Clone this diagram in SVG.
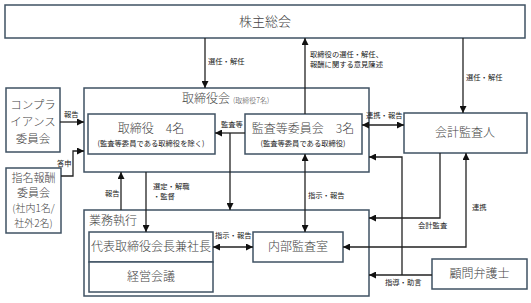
<svg xmlns="http://www.w3.org/2000/svg" width="531" height="303" viewBox="0 0 531 303">
<style>
.box{fill:#fff;stroke:#3f5263;stroke-width:1.5}
.t{font-family:"Noto Sans CJK JP","Liberation Serif",serif;fill:#444;font-weight:300}
.s{font-family:"Noto Sans CJK JP","Liberation Sans",sans-serif;fill:#222;font-size:7.3px}
.c{fill:none;stroke:#222;stroke-width:1.3}
</style>
<defs>
<marker id="a" viewBox="0 0 10 10" refX="10" refY="5" markerWidth="7" markerHeight="7" markerUnits="userSpaceOnUse" orient="auto-start-reverse">
<path d="M0,0L10,5L0,10z" fill="#111"/>
</marker>
</defs>
<rect width="531" height="303" fill="#fff"/>
<g id="shareholders"><rect class="box" x="5" y="5" width="520" height="33"/><text class="t" x="265" y="26" font-size="13" text-anchor="middle">株主総会</text></g>
<g id="board"><rect class="box" x="84" y="88" width="285" height="84"/><text class="t" x="182" y="103" font-size="12">取締役会<tspan font-size="7" dx="3">(取締役7名)</tspan></text></g>
<g id="directors"><rect class="box" x="88" y="114" width="127" height="40"/><text class="t" x="151" y="133" font-size="12" text-anchor="middle">取締役　4名</text><text class="s" x="151" y="146" text-anchor="middle">(監査等委員である取締役を除く)</text></g>
<g id="audit-committee"><rect class="box" x="245" y="114" width="117" height="40"/><text class="t" x="303" y="133" font-size="12" text-anchor="middle">監査等委員会　3名</text><text class="s" x="303" y="146" text-anchor="middle">(監査等委員である取締役)</text></g>
<g id="accounting-auditor"><rect class="box" x="404" y="113" width="123" height="40"/><text class="t" x="465" y="137" font-size="12" text-anchor="middle">会計監査人</text></g>
<g id="compliance"><rect class="box" x="6" y="88" width="54" height="64"/><text class="t" font-size="11.5" text-anchor="middle"><tspan x="33" y="109">コンプラ</tspan><tspan x="33" y="126">イアンス</tspan><tspan x="33" y="143">委員会</tspan></text></g>
<g id="nomination"><rect class="box" x="6" y="168" width="55" height="65"/><text class="t" text-anchor="middle"><tspan x="33.5" y="182" font-size="11">指名報酬</tspan><tspan x="33.5" y="197" font-size="11">委員会</tspan><tspan x="33.5" y="212" font-size="10">(社内1名/</tspan><tspan x="33.5" y="227" font-size="10">社外2名)</tspan></text></g>
<g id="execution"><rect class="box" x="84" y="210" width="285" height="86"/><text class="t" x="89" y="225" font-size="12">業務執行</text></g>
<g id="president"><rect class="box" x="89" y="232" width="124" height="30"/><text class="t" x="151" y="251" font-size="12" text-anchor="middle">代表取締役会長兼社長</text></g>
<g id="management-meeting"><rect class="box" x="89" y="262" width="124" height="30"/><text class="t" x="151" y="281" font-size="12" text-anchor="middle">経営会議</text></g>
<g id="internal-audit"><rect class="box" x="253" y="232" width="90" height="30"/><text class="t" x="298" y="251" font-size="12" text-anchor="middle">内部監査室</text></g>
<g id="lawyer"><rect class="box" x="432" y="259" width="95" height="30"/><text class="t" x="479.5" y="278" font-size="12" text-anchor="middle">顧問弁護士</text></g>
<g id="connectors">
<path class="c" d="M205,38V88" marker-end="url(#a)"/>
<path class="c" d="M305,114V38" marker-end="url(#a)"/>
<path class="c" d="M463,38V113" marker-end="url(#a)"/>
<path class="c" d="M60,122H84" marker-end="url(#a)"/>
<path class="c" d="M61,176H73V151H84" marker-end="url(#a)"/>
<path class="c" d="M121,210V172" marker-end="url(#a)"/>
<path class="c" d="M146,172V232" marker-end="url(#a)"/>
<path class="c" d="M245,133H215" marker-end="url(#a)"/>
<path class="c" d="M230,133V210" marker-end="url(#a)"/>
<path class="c" d="M305,154V232" marker-start="url(#a)" marker-end="url(#a)"/>
<path class="c" d="M362,125H404" marker-start="url(#a)" marker-end="url(#a)"/>
<path class="c" d="M432,275H369" marker-end="url(#a)"/>
<path class="c" d="M402,275V157H369" marker-end="url(#a)"/>
<path class="c" d="M440,153V218H369" marker-end="url(#a)"/>
<path class="c" d="M343,247H466V153" marker-start="url(#a)" marker-end="url(#a)"/>
<path class="c" d="M213,247H253" marker-start="url(#a)" marker-end="url(#a)"/>
<text class="s" x="208" y="64">選任・解任</text>
<text class="s" x="310" y="57">取締役の選任・解任、</text>
<text class="s" x="310" y="67">報酬に関する意見陳述</text>
<text class="s" x="466" y="80">選任・解任</text>
<text class="s" x="64" y="117">報告</text>
<text class="s" x="57" y="166">答申</text>
<text class="s" x="105" y="196">報告</text>
<text class="s" x="153" y="189">選定・解職</text>
<text class="s" x="153" y="199">・監督</text>
<text class="s" x="221" y="127">監査等</text>
<text class="s" x="366" y="118">連携・報告</text>
<text class="s" x="308" y="198">指示・報告</text>
<text class="s" x="215" y="238">指示・報告</text>
<text class="s" x="418" y="228">会計監査</text>
<text class="s" x="472" y="210">連携</text>
<text class="s" x="385" y="285">指導・助言</text>
</g>
</svg>
